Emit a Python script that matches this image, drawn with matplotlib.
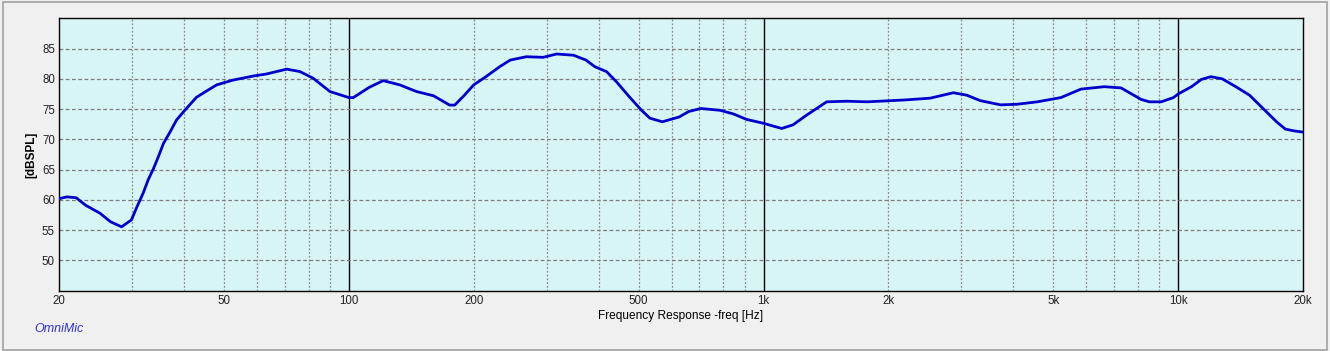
import matplotlib.pyplot as plt
from matplotlib.patches import Rectangle
from matplotlib.ticker import FixedLocator, NullFormatter

# frequency response
freq = [20, 20.9, 22, 23.2, 25.1, 26.6, 28.3, 29.9, 30.8, 31.9, 32.8, 33.8, 34.7,
        35.7, 37.1, 38.4, 40.2, 42.9, 45.4, 48, 52.6, 58.8, 63.3, 70.8, 76.2, 82,
        90, 100, 102.5, 112, 121, 132.6, 145.6, 160, 175, 180, 190, 200, 214, 231,
        245, 268, 294, 317, 348, 373, 392, 418, 442, 475, 508, 532, 570, 626, 660,
        706, 786, 846, 910, 1000, 1106, 1178, 1270, 1420, 1588, 1776, 2180, 2520,
        2870, 3090, 3330, 3730, 4090, 4574, 5212, 5828, 6636, 7280, 8140, 8520,
        9100, 9740, 10000, 10770, 11370, 11990, 12770, 13770, 14860, 16020, 17270,
        18130, 19020, 20000]
spl = [60.2, 60.5, 60.35, 59.1, 57.8, 56.4, 55.55, 56.7, 58.8, 61.1, 63.3, 65.2,
       67.1, 69.3, 71.3, 73.2, 74.8, 76.95, 78.0, 79.0, 79.8, 80.46, 80.8, 81.6,
       81.2, 80.1, 77.9, 76.9, 76.9, 78.6, 79.7, 79.0, 77.9, 77.2, 75.66, 75.66,
       77.3, 79.0, 80.35, 82.0, 83.1, 83.65, 83.55, 84.1, 83.9, 83.1, 82.0, 81.2,
       79.5, 77.0, 74.8, 73.5, 72.9, 73.7, 74.6, 75.1, 74.8, 74.2, 73.3, 72.65,
       71.8, 72.4, 74.0, 76.2, 76.3, 76.2, 76.5, 76.8, 77.7, 77.3, 76.4, 75.7,
       75.8, 76.2, 76.9, 78.3, 78.7, 78.5, 76.6, 76.2, 76.2, 76.9, 77.5, 78.7,
       79.9, 80.35, 80.0, 78.7, 77.3, 75.1, 72.9, 71.7, 71.4, 71.2]

major_ticks = [20, 50, 100, 200, 500, 1000, 2000, 5000, 10000, 20000]
major_labels = ['20', '50', '100', '200', '500', '1k', '2k', '5k', '10k', '20k']
decades = [100, 1000, 10000]
minor_lines = [m * d for d in [10, 100, 1000] for m in range(2, 10)] + [20000]
minor_lines = [v for v in minor_lines if 20 < v < 20000 and v not in decades]
y_ticks = [50, 55, 60, 65, 70, 75, 80, 85]

plt.rcParams['font.family'] = ['Liberation Sans', 'DejaVu Sans']

fig = plt.figure(figsize=(13.3, 3.51), dpi=100, facecolor='#f0f0f0')
fig.patches.append(Rectangle((0.002, 0.004), 0.996, 0.99, transform=fig.transFigure,
                             fill=False, edgecolor='#a0a0a0', linewidth=1.2))
ax = fig.add_axes([0.0444, 0.1718, 0.9353, 0.7761])
ax.set_facecolor('#d8f5f5')

ax.set_xscale('log')
ax.set_xlim(20, 20000)
ax.set_ylim(45, 90)

# grid lines
for v in minor_lines:
    ax.axvline(v, color='#8c8c8c', linestyle=(0, (1.5, 1.5)), linewidth=0.9, zorder=1)
for v in decades:
    ax.axvline(v, color='black', linewidth=1.0, zorder=1)
for v in y_ticks:
    ax.axhline(v, color='#7c7c7c', linestyle=(0, (3, 2)), linewidth=0.9, zorder=1)

ax.plot(freq, spl, color='#0000cc', linewidth=2.0, zorder=3)

ax.xaxis.set_major_locator(FixedLocator(major_ticks))
ax.xaxis.set_minor_formatter(NullFormatter())
ax.xaxis.set_minor_locator(FixedLocator([]))
ax.set_xticklabels(major_labels)
ax.set_yticks(y_ticks)
ax.tick_params(axis='both', length=0, labelsize=8.3, colors='#222222', pad=3)

for s in ax.spines.values():
    s.set_color('black')
    s.set_linewidth(1.0)

ax.set_ylabel('[dBSPL]', fontsize=8.5, fontweight='bold')
ax.yaxis.set_label_coords(-0.0175, 0.5)
ax.set_xlabel('Frequency Response -freq [Hz]', fontsize=8.6, labelpad=2)
fig.text(0.026, 0.055, 'OmniMic', fontsize=9, style='italic', color='#3030d0')

fig.savefig('out.png', dpi=100, facecolor=fig.get_facecolor())
